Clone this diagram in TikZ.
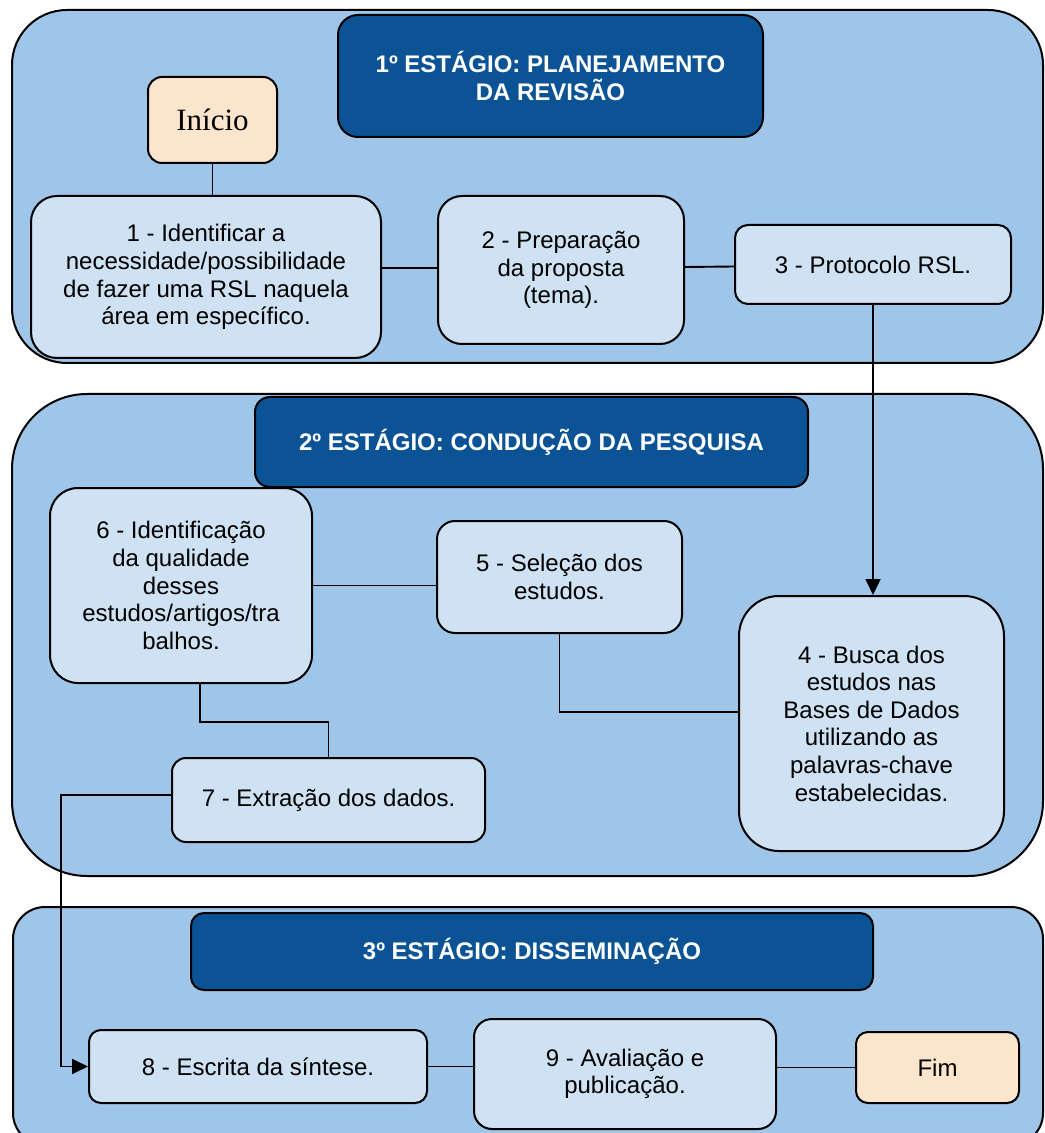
\documentclass[tikz,border=0pt]{standalone}
\usepackage{fontspec}
\setmainfont{Liberation Sans}
\newfontfamily\serifa{Liberation Serif}
\usepackage{tikz}
\usetikzlibrary{arrows.meta,positioning}
\definecolor{rsstage}{RGB}{159,197,232}
\definecolor{rsdark}{RGB}{11,83,148}
\definecolor{rsbox}{RGB}{207,226,243}
\definecolor{rspeach}{RGB}{252,229,205}
\tikzstyle{stage} = [draw=black, fill=rsstage, line width=1pt]
\tikzstyle{titulo} = [rectangle, draw=black, fill=rsdark, text=white, font=\bfseries\fontsize{12}{13.8}\selectfont, align=center, line width=1pt]
\tikzstyle{etapa} = [rectangle, draw=black, fill=rsbox, font=\fontsize{12}{13.8}\selectfont, align=center, line width=1pt]
\tikzstyle{terminal} = [etapa, fill=rspeach]
\tikzstyle{linha} = [line width=0.95pt]
\tikzstyle{arrow} = [line width=0.95pt, -{Triangle[length=8pt,width=7.5pt]}]

\begin{document}
\begin{tikzpicture}[x=0.5pt,y=-0.5pt]
\useasboundingbox (0,0) rectangle (1044,1133);

% Stages
\draw[stage, rounded corners=27.5pt] (12,10) rectangle (1043,363);
\draw[stage, rounded corners=37.5pt] (12,394) rectangle (1043,876);
\draw[stage, rounded corners=16pt] (13,907) rectangle (1043,1145);

% 1st stage
\node[titulo, rounded corners=10pt, minimum width=212.5pt, minimum height=61pt] (t1) at (550.5,76) {1º ESTÁGIO: PLANEJAMENTO\\DA REVISÃO};
\node[terminal, rounded corners=7pt, minimum width=64.5pt, minimum height=43pt, font=\serifa\fontsize{15.5}{18}\selectfont] (ini) at (212.5,120) {Início};
\node[etapa, rounded corners=13pt, minimum width=175pt, minimum height=81pt] (n1) at (206,277) {1 - Identificar a\\necessidade/possibilidade\\de fazer uma RSL naquela\\área em específico.};
\node[etapa, rounded corners=12pt, minimum width=123pt, minimum height=74pt] (n2) at (561,270) {2 - Preparação\\da proposta\\(tema).};
\node[etapa, rounded corners=6.5pt, minimum width=138pt, minimum height=39.5pt] (n3) at (873,264.5) {3 - Protocolo RSL.};

% 2nd stage
\node[titulo, rounded corners=7.5pt, minimum width=276.5pt, minimum height=45pt] (t2) at (531.5,442) {2º ESTÁGIO: CONDUÇÃO DA PESQUISA};
\node[etapa, rounded corners=20pt, minimum width=132.5pt, minimum height=127.5pt] (n4) at (871.5,723.5) {4 - Busca dos\\estudos nas\\Bases de Dados\\utilizando as\\palavras-chave\\estabelecidas.};
\node[etapa, rounded corners=9pt, minimum width=122.5pt, minimum height=56pt] (n5) at (559.5,577) {5 - Seleção dos\\estudos.};
\node[etapa, rounded corners=14pt, minimum width=131pt, minimum height=97.5pt] (n6) at (181,585.5) {6 - Identificação\\da qualidade\\desses\\estudos/artigos/tra\\balhos.};
\node[etapa, rounded corners=7pt, minimum width=156.5pt, minimum height=42pt] (n7) at (328.5,800) {7 - Extração dos dados.};

% 3rd stage
\node[titulo, rounded corners=6.5pt, minimum width=341pt, minimum height=38.5pt] (t3) at (532,951.5) {3º ESTÁGIO: DISSEMINAÇÃO};
\node[etapa, rounded corners=6pt, minimum width=169pt, minimum height=36.5pt] (n8) at (258,1066.5) {8 - Escrita da síntese.};
\node[etapa, rounded corners=9pt, minimum width=151pt, minimum height=55pt] (n9) at (625,1074) {9 - Avaliação e\\publicação.};
\node[terminal, rounded corners=6pt, minimum width=81.5pt, minimum height=35.5pt] (fim) at (937.5,1067.5) {Fim};

% Connectors
\draw[linha] (ini.south) -- (n1.north -| ini.south);
\draw[linha] ([yshift=4.5pt]n1.east) -- ([yshift=4.5pt]n1.east -| n2.west);
\draw[linha] ([yshift=1.5pt]n2.east) -- ([yshift=-1pt]n3.west);
\draw[arrow] (n3.south) -- (n3.south |- n4.north);
\draw[linha] (n6.east) -- (n6.east -| n5.west);
\draw[linha] (n5.south) |- ([yshift=5.75pt]n4.west);
\draw[linha] ([xshift=9.5pt]n6.south) -- ++(0,38) -| (n7.north);
\draw[arrow] ([yshift=2.5pt]n7.west) -- ++(-110,0) |- (n8.west);
\draw[linha] (n8.east) -- (n8.east -| n9.west);
\draw[linha] (fim.west) -- (fim.west -| n9.east);
\end{tikzpicture}
\end{document}
